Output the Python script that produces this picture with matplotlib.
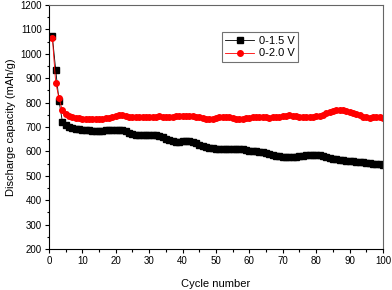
import numpy as np
import matplotlib
matplotlib.use("Agg")
import matplotlib.pyplot as plt
from matplotlib.ticker import MultipleLocator

plt.rcParams["font.family"] = ["Liberation Sans", "DejaVu Sans"]

cycles = np.arange(1, 101)
cap_15 = [1072, 935, 808, 722, 708, 700, 695, 692, 690, 688,
          687, 686, 685, 685, 685, 685, 686, 687, 688, 689,
          689, 687, 682, 675, 670, 668, 667, 667, 667, 668,
          668, 667, 665, 660, 652, 645, 642, 640, 640, 641,
          642, 641, 638, 633, 627, 622, 618, 615, 613, 612,
          611, 610, 609, 609, 610, 610, 610, 609, 606, 603,
          601, 600, 599, 597, 594, 590, 586, 583, 581, 579,
          578, 578, 578, 579, 581, 583, 585, 586, 586, 586,
          585, 582, 578, 574, 571, 568, 566, 564, 562, 560,
          559, 557, 556, 555, 553, 552, 550, 549, 547, 545]
cap_20 = [1065, 882, 818, 768, 752, 745, 740, 737, 735, 734,
          733, 732, 732, 732, 733, 734, 735, 737, 740, 745,
          748, 748, 746, 742, 740, 740, 741, 742, 741, 740,
          741, 743, 744, 743, 742, 741, 742, 744, 746, 747,
          747, 746, 745, 743, 740, 736, 733, 731, 732, 735,
          739, 742, 743, 741, 737, 733, 731, 732, 735, 738,
          740, 741, 741, 740, 739, 738, 739, 741, 743, 745,
          747, 748, 747, 745, 742, 740, 739, 740, 742, 744,
          747, 751, 756, 761, 766, 769, 770, 768, 765, 761,
          757, 753, 748, 743, 740, 738, 740, 742, 741, 738]
labels = ["0-1.5 V", "0-2.0 V"]

fig = plt.figure(figsize=(3.92, 2.90), dpi=100)
ax = fig.add_axes([0.125, 0.141, 0.852, 0.842])
ax.plot(cycles, cap_15, color="black", marker="s", markersize=3.8, lw=0.6, label=labels[0])
ax.plot(cycles, cap_20, color="red", marker="o", markersize=4.0, lw=0.6, label=labels[1])

ax.set_xlim(0, 100)
ax.set_ylim(200, 1200)
ax.xaxis.set_major_locator(MultipleLocator(10))
ax.xaxis.set_minor_locator(MultipleLocator(5))
ax.yaxis.set_major_locator(MultipleLocator(100))
ax.yaxis.set_minor_locator(MultipleLocator(50))
ax.tick_params(labelsize=7, length=3, width=0.8, pad=2)
ax.tick_params(which="minor", length=1.8, width=0.8)
for s in ax.spines.values():
    s.set_linewidth(0.8)
ax.spines["top"].set_color("0.4")
ax.spines["right"].set_color("0.4")
ax.set_xlabel("Cycle number", fontsize=8, labelpad=9)
ax.set_ylabel("Discharge capacity (mAh/g)", fontsize=8, labelpad=3)

leg = ax.legend(loc="upper left", bbox_to_anchor=(0.518, 0.888), fontsize=8,
                frameon=True, fancybox=False, handlelength=2.6, borderpad=0.3,
                labelspacing=0.25, handletextpad=0.4, borderaxespad=0)
leg.get_frame().set_edgecolor("0.3")
leg.get_frame().set_linewidth(0.8)

fig.savefig("out.png", dpi=100)
